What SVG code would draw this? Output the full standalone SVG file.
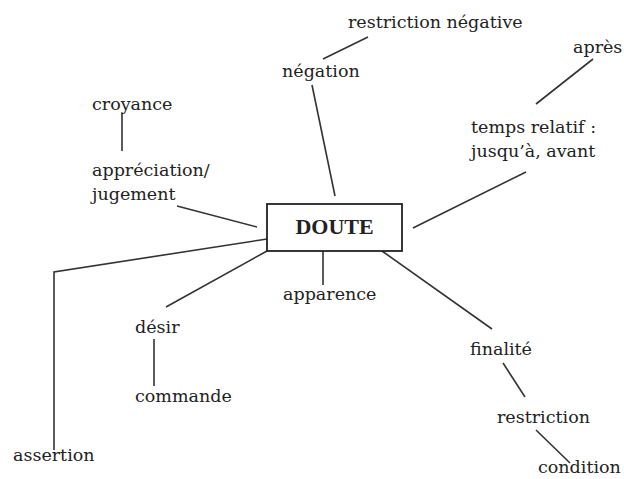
<svg xmlns="http://www.w3.org/2000/svg" width="624" height="479" viewBox="0 0 624 479">
<style>
text{font-family:"DejaVu Serif","Liberation Serif",serif;font-size:17.5px;fill:#222}
.b{font-family:"Liberation Serif","Times New Roman",serif;font-size:22px;font-weight:bold}
.c line,.c polyline{stroke:#333;stroke-width:1.6;fill:none}
</style>
<rect width="624" height="479" fill="#fff"/>
<g class="c" id="connectors">
<line x1="368" y1="37" x2="323" y2="59"/>
<line x1="312" y1="85" x2="335" y2="196"/>
<line x1="593" y1="59" x2="536" y2="104"/>
<line x1="526" y1="172" x2="413" y2="228"/>
<line x1="122" y1="113" x2="122" y2="151"/>
<line x1="177" y1="206" x2="257" y2="227"/>
<polyline points="267,239 54,272 54,450"/>
<line x1="267" y1="251" x2="166" y2="307"/>
<line x1="154" y1="339" x2="154" y2="386"/>
<line x1="323" y1="251" x2="323" y2="285"/>
<line x1="382" y1="251" x2="492" y2="329"/>
<line x1="503" y1="363" x2="525" y2="397"/>
<line x1="536" y1="430" x2="570" y2="463"/>
</g>
<g id="doute"><rect x="267" y="204" width="135" height="47" fill="#fff" stroke="#222" stroke-width="1.8"/><text class="b" x="334.5" y="234" text-anchor="middle">DOUTE</text></g>
<g id="restriction-negative"><text x="348" y="28">restriction négative</text></g>
<g id="negation"><text x="282" y="77">négation</text></g>
<g id="apres"><text x="573" y="53">après</text></g>
<g id="temps-relatif"><text x="471" y="133">temps relatif :</text><text x="471" y="157">jusqu’à, avant</text></g>
<g id="croyance"><text x="92" y="110">croyance</text></g>
<g id="appreciation"><text x="92" y="176">appréciation/</text><text x="92" y="200">jugement</text></g>
<g id="desir"><text x="135" y="333">désir</text></g>
<g id="commande"><text x="135" y="402">commande</text></g>
<g id="assertion"><text x="13" y="461">assertion</text></g>
<g id="apparence"><text x="283" y="300">apparence</text></g>
<g id="finalite"><text x="470" y="355">finalité</text></g>
<g id="restriction"><text x="497" y="423">restriction</text></g>
<g id="condition"><text x="538" y="473">condition</text></g>
</svg>
